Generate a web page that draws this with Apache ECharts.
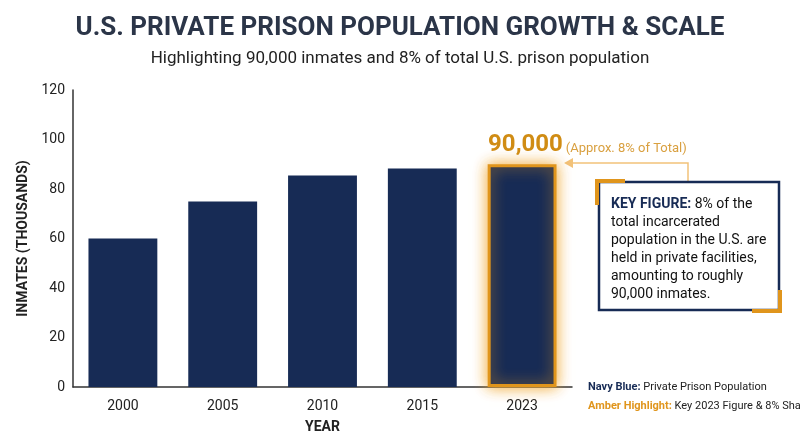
<!DOCTYPE html>
<html><head><meta charset="utf-8">
<script src="https://cdn.jsdelivr.net/npm/echarts@6/dist/echarts.min.js"></script>
<style>html,body{margin:0;padding:0;background:#fff}#c{width:800px;height:447px}</style>
</head><body><div id="c"></div>
<script>
const years = ['2000','2005','2010','2015','2023'];
const inmates = [60, 75, 85.5, 88.3, 90];
const yTicks = [0, 20, 40, 60, 80, 100, 120];
const navy = '#172b55', amber = '#e0951c';
const chart = echarts.init(document.getElementById('c'));
const F = 'Roboto';
chart.setOption({
  animation: false,
  textStyle: {fontFamily: F},
  title: [
    {text: 'U.S. PRIVATE PRISON POPULATION GROWTH & SCALE', left: 'center', top: 10,
     textStyle: {fontFamily: F, fontSize: 26, fontWeight: 'bold', color: '#2b3548'}},
    {text: 'Highlighting 90,000 inmates and 8% of total U.S. prison population', left: 'center', top: 45,
     textStyle: {fontFamily: F, fontSize: 17, fontWeight: 'normal', color: '#222'}}
  ],
  grid: {left: 73, right: 228, top: 90, bottom: 60},
  xAxis: {type: 'category', data: years, name: 'YEAR', nameLocation: 'middle', nameGap: 33,
    nameTextStyle: {fontSize: 14, fontWeight: 'bold', color: '#222'},
    axisLine: {lineStyle: {color: '#333', width: 1.5}}, axisTick: {show: false},
    axisLabel: {fontSize: 14, color: '#222', margin: 12}},
  yAxis: {type: 'value', min: yTicks[0], max: yTicks[yTicks.length-1], interval: 20,
    name: 'INMATES (THOUSANDS)', nameLocation: 'middle', nameGap: 42,
    nameTextStyle: {fontSize: 14, fontWeight: 'bold', color: '#222'},
    axisLine: {show: true, lineStyle: {color: '#333', width: 1.5}}, axisTick: {show: false},
    splitLine: {show: false}, axisLabel: {fontSize: 14, color: '#222', margin: 8}},
  series: [{
    type: 'bar', barWidth: '69%',
    data: inmates.map((v, i) => i === inmates.length - 1 ? {
      value: v,
      itemStyle: {color: navy, borderColor: amber, borderWidth: 3, shadowBlur: 14, shadowColor: 'rgba(240,160,30,0.9)'},
      label: {show: true, position: 'top', align: 'left', offset: [-34, -2],
        formatter: '{a|90,000} {b|(Approx. 8% of Total)}',
        rich: {a: {fontSize: 24, fontWeight: 'bold', color: '#d08c14', fontFamily: F},
               b: {fontSize: 13, color: '#d9a040', fontFamily: F, padding: [6, 0, 0, 0]}}}
    } : {value: v, itemStyle: {color: navy}})
  }],
  graphic: [
    {type: 'polyline', shape: {points: [[688, 182], [688, 163], [570, 163]]},
     style: {stroke: '#f2c27a', lineWidth: 1.5, fill: null}},
    {type: 'polygon', shape: {points: [[564, 163], [573, 158], [573, 168]]}, style: {fill: '#f2c27a'}},
    {type: 'rect', shape: {x: 599, y: 182, width: 180, height: 128}, style: {fill: '#fff', stroke: navy, lineWidth: 2.5}},
    {type: 'polyline', shape: {points: [[597, 205], [597, 181], [625, 181]]}, style: {stroke: amber, lineWidth: 4, fill: null}},
    {type: 'polyline', shape: {points: [[752, 311], [780, 311], [780, 290]]}, style: {stroke: amber, lineWidth: 4, fill: null}},
    {type: 'text', left: 611, top: 195, style: {
      text: '{k|KEY FIGURE:} 8% of the\ntotal incarcerated\npopulation in the U.S. are\nheld in private facilities,\namounting to roughly\n90,000 inmates.',
      font: '14px Roboto', fill: '#111', lineHeight: 18,
      rich: {k: {fontWeight: 'bold', fill: navy, fontSize: 14, fontFamily: F}}}},
    {type: 'text', left: 588, top: 382, style: {
      text: '{n|Navy Blue:} Private Prison Population', font: '11px Roboto', fill: '#222',
      rich: {n: {fontWeight: 'bold', fill: navy, fontSize: 11, fontFamily: F}}}},
    {type: 'text', left: 588, top: 401, style: {
      text: '{n|Amber Highlight:} Key 2023 Figure & 8% Share', font: '11px Roboto', fill: '#222',
      rich: {n: {fontWeight: 'bold', fill: amber, fontSize: 11, fontFamily: F}}}}
  ]
});
</script></body></html>
